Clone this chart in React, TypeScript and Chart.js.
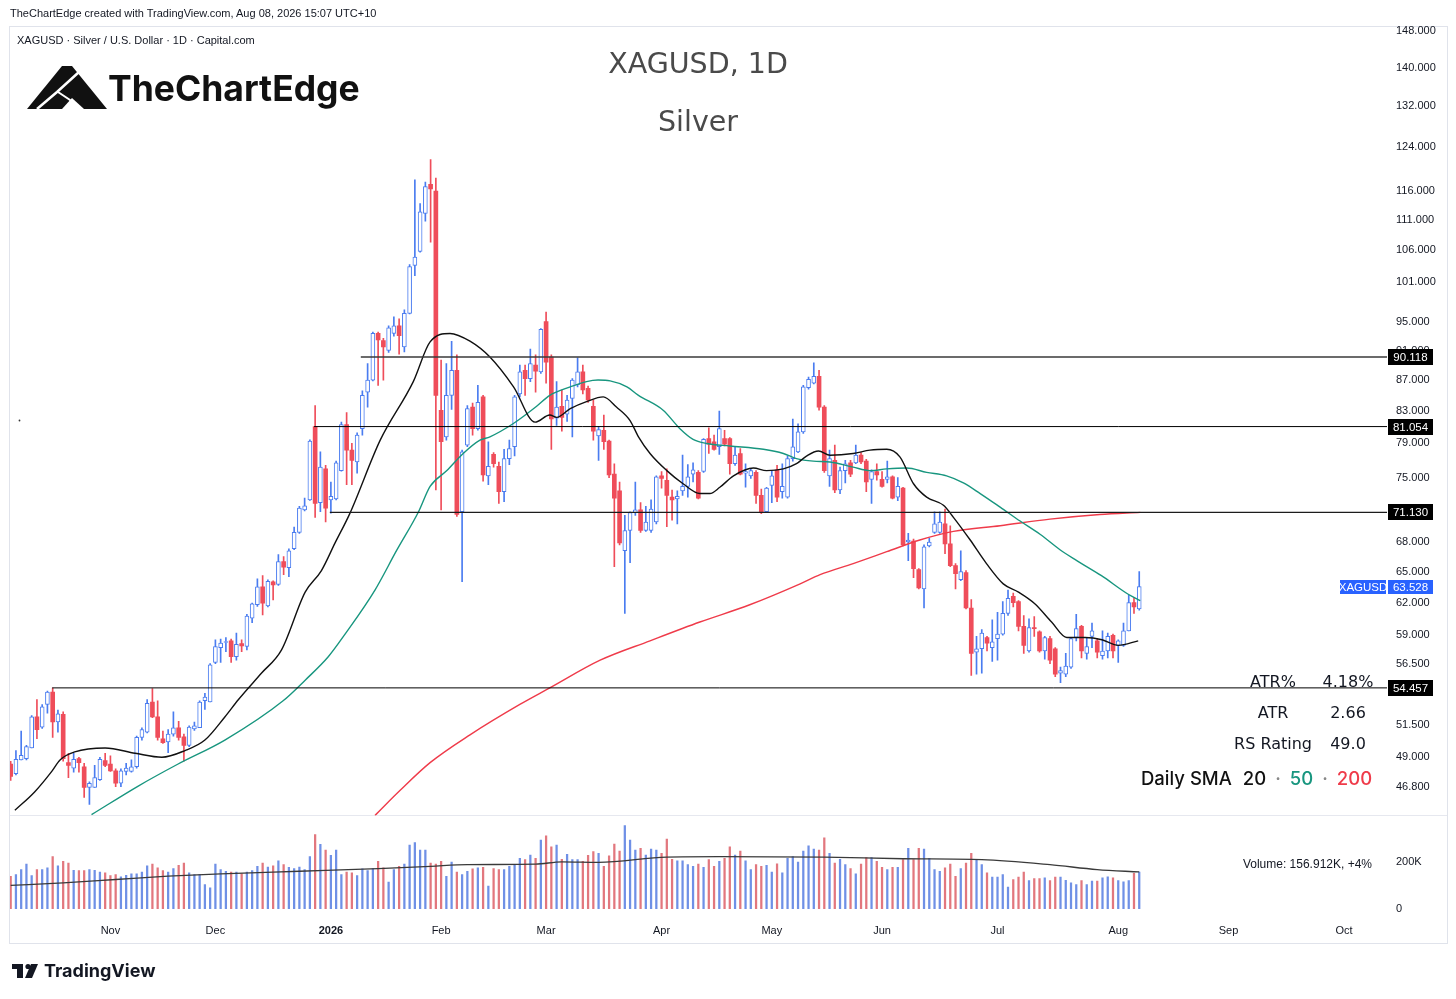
import React, { useEffect, useRef } from "react";
import { Chart, registerables } from "chart.js";
Chart.register(...registerables);

// ---------------- data ----------------
const FIRST_DAY = "2025-10-07";
const HOLIDAYS = ["2025-12-25", "2026-01-01", "2026-04-03"];
const MONTH_NAMES = ["Jan", "Feb", "Mar", "Apr", "May", "Jun", "Jul", "Aug", "Sep", "Oct", "Nov", "Dec"];

const open = [
  48.5, 47.8, 48.8, 48.9, 49.7, 52.1, 51.3, 53.1, 54.1, 51.7,
  52.3, 48.6, 48.2, 48.9, 48.3, 46.8, 46.8, 47.35, 48.75, 48.5,
  48.0, 47.1, 47.95, 47.95, 48.3, 50.5, 50.9, 53.3, 52.1, 50.4,
  50.15, 50.75, 51.25, 50.55, 49.9, 51.15, 51.25, 53.4, 53.3, 56.6,
  57.9, 58.35, 58.5, 57.1, 58.25, 58.0, 60.55, 61.8, 63.5, 61.7,
  64.0, 63.75, 66.0, 65.4, 67.3, 69.0, 71.4, 72.5, 81.05, 72.2,
  76.0, 72.5, 72.6, 75.8, 81.3, 78.2, 76.8, 80.8, 85.4, 87.0,
  93.4, 92.4, 91.0, 93.4, 94.5, 91.5, 96.3, 103.6, 105.8, 112.1,
  117.2, 116.0, 83.1, 79.8, 85.0, 88.3, 71.2, 78.8, 83.5, 80.8,
  84.8, 75.2, 77.7, 76.3, 73.4, 77.2, 78.6, 85.2, 88.3, 87.2,
  89.0, 88.1, 95.1, 90.1, 82.1, 83.6, 82.6, 84.6, 86.4, 88.1,
  85.9, 83.6, 79.9, 80.6, 79.3, 75.4, 73.5, 67.1, 69.2, 71.1,
  71.4, 69.2, 69.2, 70.1, 75.2, 74.7, 72.8, 72.6, 73.5, 74.0,
  75.4, 75.6, 75.7, 79.6, 79.2, 78.6, 79.6, 79.6, 76.6, 77.8,
  75.5, 75.2, 75.6, 73.0, 71.2, 74.1, 75.9, 73.4, 72.8, 77.2,
  78.0, 80.4, 86.0, 86.6, 87.5, 83.5, 75.2, 77.0, 73.6, 75.8,
  76.7, 76.7, 77.6, 76.9, 74.8, 75.7, 74.8, 74.8, 75.1, 72.8,
  73.8, 68.0, 68.1, 65.2, 63.3, 67.6, 69.0, 69.0, 69.9, 67.8,
  65.6, 64.2, 64.9, 61.5, 57.5, 57.8, 58.8, 57.9, 58.7, 59.1,
  61.0, 62.6, 62.1, 59.8, 57.6, 59.7, 59.3, 57.6, 58.7, 57.8,
  55.7, 55.6, 56.2, 58.8, 59.8, 57.4, 58.9, 58.5, 57.2, 57.6,
  59.0, 58.1, 58.1, 59.4, 62.0, 61.4,
];
const high = [
  48.7, 49.5, 51.0, 49.9, 52.2, 53.5, 53.1, 54.2, 54.45, 52.65,
  52.5, 49.3, 49.3, 49.0, 48.55, 47.2, 48.4, 49.0, 49.3, 49.1,
  48.15, 48.15, 48.55, 48.8, 50.6, 51.25, 53.5, 54.4, 53.4, 51.0,
  51.1, 52.5, 51.75, 50.75, 51.4, 51.7, 53.4, 54.0, 56.5, 58.6,
  58.65, 58.8, 58.65, 59.2, 58.6, 60.9, 61.95, 64.3, 64.6, 64.2,
  64.1, 66.7, 66.5, 67.3, 69.55, 71.8, 72.7, 79.45, 83.7, 78.0,
  76.4, 74.5, 76.9, 81.6, 82.8, 79.0, 80.3, 85.6, 89.2, 93.6,
  93.6, 92.7, 94.5, 95.8, 95.5, 96.8, 103.7, 118.0, 113.8, 117.6,
  121.7, 118.3, 89.7, 89.2, 92.3, 90.4, 78.2, 83.7, 84.0, 86.3,
  85.0, 79.2, 77.9, 76.8, 78.3, 79.4, 85.0, 89.0, 89.0, 91.2,
  90.4, 94.1, 96.5, 90.4, 86.8, 85.7, 85.0, 87.2, 90.0, 89.0,
  86.2, 84.4, 81.1, 82.5, 79.4, 76.6, 74.5, 70.8, 71.2, 74.5,
  72.2, 71.8, 72.5, 75.2, 75.7, 76.0, 73.6, 73.5, 77.6, 76.5,
  76.7, 75.8, 79.6, 80.9, 80.0, 83.0, 80.6, 79.7, 78.6, 78.4,
  76.6, 76.0, 75.8, 73.7, 73.9, 75.8, 76.4, 76.6, 77.5, 82.0,
  81.4, 86.3, 87.4, 89.3, 88.3, 83.7, 78.2, 78.8, 76.2, 77.0,
  77.0, 78.8, 77.9, 77.1, 75.9, 76.6, 75.7, 76.9, 75.2, 75.0,
  73.9, 68.9, 68.3, 65.3, 67.7, 68.4, 71.2, 71.2, 71.5, 69.7,
  65.8, 67.1, 65.1, 62.3, 58.9, 59.5, 58.9, 60.4, 61.1, 62.1,
  63.2, 62.9, 62.2, 60.8, 60.5, 60.7, 59.4, 58.9, 58.9, 57.9,
  56.2, 57.4, 58.8, 60.9, 59.9, 58.8, 60.1, 58.7, 59.4, 59.2,
  59.1, 58.6, 60.1, 62.7, 62.5, 65.0,
];
const low = [
  47.3, 47.7, 48.8, 48.8, 49.7, 50.4, 51.2, 52.4, 50.5, 50.9,
  48.7, 47.5, 47.9, 47.9, 46.1, 45.6, 46.8, 47.3, 48.3, 47.95,
  46.85, 46.85, 47.7, 47.9, 48.2, 50.3, 50.85, 52.05, 50.3, 50.05,
  49.35, 50.6, 50.3, 48.7, 49.8, 51.05, 51.25, 52.7, 53.3, 56.5,
  56.6, 57.55, 56.6, 56.8, 57.55, 57.7, 60.15, 61.65, 60.85, 61.6,
  62.25, 63.65, 64.7, 64.5, 67.2, 68.9, 71.3, 72.45, 70.6, 71.2,
  70.1, 71.05, 72.5, 75.75, 74.2, 74.2, 75.5, 80.0, 83.5, 86.9,
  86.3, 87.0, 90.75, 93.0, 90.5, 90.8, 96.2, 102.0, 105.7, 110.8,
  107.3, 73.6, 71.4, 79.4, 83.2, 70.7, 64.0, 78.6, 80.0, 80.6,
  74.6, 74.2, 76.2, 72.1, 72.3, 76.5, 77.5, 84.8, 85.0, 86.8,
  85.4, 87.9, 86.6, 78.3, 81.2, 80.5, 81.7, 79.8, 86.1, 85.2,
  84.1, 79.4, 77.0, 78.3, 75.0, 65.5, 67.7, 61.0, 65.9, 70.8,
  69.0, 69.1, 69.0, 69.9, 73.8, 69.6, 70.3, 69.9, 73.0, 72.8,
  74.5, 72.6, 75.6, 77.8, 78.2, 77.7, 78.7, 75.4, 76.4, 75.3,
  73.9, 74.9, 72.1, 71.0, 71.1, 72.2, 72.3, 72.7, 72.7, 76.9,
  77.9, 80.2, 85.8, 86.5, 83.1, 75.6, 74.0, 73.3, 73.2, 74.4,
  75.1, 76.6, 76.6, 73.4, 72.1, 74.7, 73.9, 74.4, 72.6, 72.4,
  67.6, 66.1, 64.4, 63.3, 61.5, 67.5, 68.9, 68.9, 66.8, 65.5,
  63.3, 64.1, 61.4, 55.5, 55.6, 55.7, 57.6, 56.7, 56.8, 59.0,
  60.8, 61.6, 59.4, 57.4, 57.5, 58.9, 57.5, 56.9, 56.5, 55.4,
  54.9, 55.4, 56.1, 58.5, 57.0, 56.9, 57.9, 57.0, 56.9, 57.0,
  57.0, 56.6, 58.0, 59.4, 61.0, 61.3,
];
const close = [
  47.6, 48.85, 49.15, 49.8, 52.1, 51.1, 52.9, 54.1, 51.7, 52.35,
  48.9, 48.4, 48.85, 48.6, 46.8, 47.1, 47.5, 48.85, 48.4, 48.0,
  47.1, 48.0, 48.2, 48.3, 50.5, 51.1, 53.2, 52.1, 50.5, 50.1,
  50.75, 51.25, 50.5, 49.9, 51.3, 51.4, 53.3, 53.7, 56.4, 58.0,
  58.3, 58.4, 57.1, 58.2, 58.05, 60.75, 61.9, 63.5, 61.95, 64.05,
  63.7, 66.0, 65.45, 67.1, 69.0, 71.6, 71.85, 79.3, 72.1, 76.2,
  71.6, 72.9, 76.7, 81.3, 78.2, 77.0, 80.0, 85.0, 87.0, 93.4,
  92.5, 91.5, 94.2, 94.5, 93.1, 96.3, 103.4, 104.9, 112.4, 116.8,
  116.4, 85.0, 79.2, 85.0, 88.3, 70.9, 78.0, 83.3, 80.8, 84.1,
  75.3, 76.3, 76.6, 73.4, 77.2, 78.4, 84.8, 88.1, 87.2, 89.2,
  88.2, 94.0, 89.4, 82.0, 83.5, 82.2, 84.4, 87.0, 88.1, 85.7,
  84.4, 80.5, 80.7, 79.2, 75.3, 72.7, 67.9, 69.2, 71.1, 71.4,
  69.2, 70.1, 71.5, 75.1, 74.9, 73.0, 72.5, 72.9, 74.0, 75.1,
  75.9, 72.7, 79.5, 78.9, 78.3, 80.8, 78.9, 76.6, 77.6, 75.4,
  75.7, 75.8, 73.0, 71.2, 73.8, 75.2, 72.8, 74.0, 77.2, 78.6,
  80.4, 86.1, 87.1, 87.5, 83.5, 75.8, 77.2, 73.6, 75.8, 76.6,
  75.4, 77.6, 76.8, 74.5, 75.7, 75.3, 74.0, 75.1, 72.7, 74.0,
  67.7, 68.2, 65.3, 63.4, 67.5, 68.0, 69.9, 70.1, 67.8, 65.6,
  64.8, 65.0, 61.5, 57.4, 57.8, 59.2, 58.3, 58.4, 59.1, 61.0,
  62.4, 62.0, 59.8, 58.1, 59.7, 59.6, 57.6, 58.8, 56.8, 55.6,
  55.9, 56.3, 58.7, 59.6, 57.6, 58.0, 59.4, 57.5, 57.6, 58.9,
  57.6, 58.5, 59.4, 62.0, 61.6, 63.528,
];
// volume in thousands
const volumeK = [
  139, 146, 167, 190, 142, 167, 167, 174, 222, 183,
  202, 195, 164, 163, 163, 167, 164, 156, 153, 142,
  146, 136, 143, 149, 149, 157, 183, 190, 174, 163,
  157, 171, 185, 195, 153, 146, 146, 104, 90, 190,
  167, 160, 157, 157, 149, 157, 163, 181, 195, 178,
  183, 204, 188, 177, 171, 178, 167, 222, 316, 274,
  250, 227, 250, 146, 157, 153, 142, 170, 163, 171,
  202, 174, 114, 167, 181, 190, 271, 282, 250, 250,
  195, 190, 202, 139, 199, 156, 146, 160, 170, 174,
  177, 97, 171, 167, 167, 181, 185, 215, 209, 229,
  215, 292, 310, 264, 271, 211, 232, 209, 209, 202,
  227, 243, 236, 181, 225, 275, 246, 354, 292, 250,
  257, 229, 254, 250, 236, 296, 211, 204, 204, 188,
  181, 190, 177, 209, 181, 202, 215, 264, 229, 246,
  204, 167, 188, 181, 185, 157, 192, 153, 215, 222,
  199, 246, 268, 254, 250, 302, 236, 195, 211, 188,
  171, 149, 190, 218, 218, 202, 177, 167, 177, 177,
  209, 257, 209, 257, 254, 215, 167, 160, 174, 190,
  139, 171, 195, 236, 209, 188, 153, 135, 135, 146,
  93, 125, 135, 157, 121, 129, 129, 132, 121, 135,
  135, 122, 111, 104, 121, 104, 118, 118, 132, 136,
  132, 121, 115, 121, 151, 157,
];
// moving averages (bar index, value)
const sma20X = [0.8, 4.6, 7.9, 9.4, 12.2, 18, 23.7, 28.8, 33.2, 37, 40.8, 43.4, 47.8, 51.6, 56.1, 59.2, 61.8, 64.6, 70.4, 76.7, 79.9, 83.7, 87.5, 91.3, 95.8, 99.9, 102.7, 104, 106.6, 109.7, 112.9, 115.4, 118, 119.6, 121.8, 125, 128.1, 131.3, 133.2, 135.1, 137.7, 141.5, 144, 147.2, 149.7, 151.6, 153.9, 156.1, 160.5, 163.7, 166.9, 169.4, 172, 174.5, 177.7, 179.6, 182.8, 185.9, 189.1, 192, 195.1, 198.3, 201.2, 204.7, 207.9, 211, 214.8];
const sma20Y = [45.2, 46.5, 48.0, 48.8, 49.4, 49.7, 49.3, 49.0, 49.5, 50.3, 52.1, 53.5, 55.7, 57.7, 63.0, 65.1, 67.9, 71.0, 79.4, 86.8, 92.2, 93.4, 92.3, 90.1, 86.1, 81.6, 82.5, 82.2, 83.3, 84.2, 84.8, 83.5, 81.8, 79.8, 77.8, 75.8, 74.3, 73.2, 73.2, 73.9, 75.2, 76.1, 75.8, 76.0, 76.6, 77.5, 78.1, 77.6, 77.8, 78.2, 78.3, 77.4, 74.3, 72.8, 71.9, 70.6, 68.2, 65.8, 63.8, 63.0, 61.9, 60.2, 58.8, 58.8, 58.6, 58.1, 58.5];
const sma50X = [15.4, 24.3, 31.9, 40.8, 51.9, 56.1, 60.5, 63.7, 69.4, 73.5, 77.7, 79.9, 83.1, 86.2, 89.4, 91.3, 95.7, 100.2, 102.7, 106.6, 109.7, 111.9, 114.2, 117.4, 119.6, 124.3, 127.5, 130, 132.6, 137, 143.4, 147.2, 149.7, 152.9, 156.1, 160.5, 163.7, 166.9, 170.7, 174.5, 178.3, 181.5, 184.7, 188.5, 192.3, 196.1, 199.9, 203.1, 207.8, 212.9, 215.2];
const sma50Y = [44.9, 46.9, 48.5, 50.3, 53.4, 55.1, 57.1, 59.1, 63.2, 67.1, 71.2, 74.0, 75.8, 77.8, 79.4, 79.8, 81.4, 83.6, 85.0, 86.1, 86.8, 87.0, 86.9, 86.1, 85.0, 83.1, 80.8, 79.5, 79.0, 78.7, 78.3, 77.8, 77.2, 76.9, 76.8, 76.2, 75.8, 76.0, 76.1, 75.6, 75.2, 74.4, 73.2, 71.7, 70.2, 68.8, 67.2, 66.1, 64.6, 62.8, 62.2];
const sma200X = [69.4, 74.2, 79.9, 87.5, 97, 102.7, 112.3, 121.8, 131.3, 140.8, 150.4, 154.2, 160.5, 166.9, 173.2, 179.6, 188.5, 198, 207.5, 215.2];
const sma200Y = [44.85, 46.6, 48.6, 50.7, 53.1, 54.45, 56.8, 58.5, 60.2, 61.8, 63.8, 64.7, 65.8, 67.0, 68.2, 69.1, 69.7, 70.4, 70.9, 71.13];
const volMaX = [0, 10, 20, 30, 40, 55, 70, 80, 87, 100, 105, 112, 125, 135, 155, 170, 185, 198, 207, 215];
const volMaY = [100, 111, 125, 139, 149, 160, 171, 181, 188, 190, 200, 198, 220, 222, 220, 213, 209, 188, 167, 157];

const LEVELS = [90.118, 81.054, 71.13, 54.457];
const LEVEL_START = [66.7, 57.8, 60.8, 7.9];
const LAST_PRICE = 63.528;

const PRICE_TICKS = [148, 140, 132, 124, 116, 111, 106, 101, 95, 91, 87, 83, 79, 75, 71, 68, 65, 62, 59, 56.5, 54, 51.5, 49, 46.8];
const VOLUME_TICKS = [0, 200];

// ---------------- style ----------------
const UP = "#4a7cf0";
const DOWN = "#ef4d5a";
const VOL_UP = "#6f90e6";
const VOL_DOWN = "#e2777e";
const SMA20_C = "#111111";
const SMA50_C = "#18967f";
const SMA200_C = "#ef3b4a";
const LEVEL_C = ["#3a3a3a", "#000000", "#1c1c1c", "#000000"];
const LEVEL_W = [1.4, 1, 1.1, 1];
const X_MIN = -0.13;
const X_MAX = 262.2;
const Y_MIN = 44.85;
const Y_MAX = 149.13;
const AXIS_FONT = '"Liberation Sans", Arial, sans-serif';

function tradingDays(count: number): Date[] {
  const out: Date[] = [];
  const d = new Date(FIRST_DAY + "T00:00:00Z");
  while (out.length < count) {
    const wd = d.getUTCDay();
    const iso = d.toISOString().slice(0, 10);
    if (wd !== 0 && wd !== 6 && !HOLIDAYS.includes(iso)) out.push(new Date(d.getTime()));
    d.setUTCDate(d.getUTCDate() + 1);
  }
  return out;
}

function monthTicks(): { i: number; label: string; bold: boolean }[] {
  const days = tradingDays(Math.floor(X_MAX) + 1);
  const res: { i: number; label: string; bold: boolean }[] = [];
  for (let i = 1; i < days.length; i++) {
    const m = days[i].getUTCMonth();
    if (m !== days[i - 1].getUTCMonth()) {
      const isYear = m === 0;
      res.push({ i, label: isYear ? String(days[i].getUTCFullYear()) : MONTH_NAMES[m], bold: isYear });
    }
  }
  return res;
}

const pts = (xs: number[], ys: number[]) => xs.map((x, k) => ({ x, y: ys[k] }));

const tagPlugin = {
  id: "priceTags",
  afterDraw(chart: any) {
    const ctx = chart.ctx;
    const ys = chart.scales.y;
    const r = chart.chartArea.right;
    ctx.save();
    ctx.font = `11.5px ${AXIS_FONT}`;
    ctx.textAlign = "center";
    ctx.textBaseline = "middle";
    LEVELS.forEach((v) => {
      const py = Math.round(ys.getPixelForValue(v));
      ctx.fillStyle = "#000";
      ctx.fillRect(r + 1, py - 8, 45, 16);
      ctx.fillStyle = "#fff";
      ctx.fillText(v.toFixed(3), r + 23.5, py + 0.5);
    });
    const py = Math.round(ys.getPixelForValue(LAST_PRICE));
    ctx.fillStyle = "#2962ff";
    ctx.fillRect(r - 47, py - 7, 46, 14);
    ctx.fillRect(r + 1, py - 7, 45, 14);
    ctx.fillStyle = "#fff";
    ctx.fillText("XAGUSD", r - 24, py + 0.5);
    ctx.fillText(LAST_PRICE.toFixed(3), r + 23.5, py + 0.5);
    ctx.restore();
  },
};

function Txt(props: any) {
  const { x, y, size, align = "left", family = AXIS_FONT, weight = 400, color = "#131722", children, style } = props;
  const tx = align === "center" ? "-50%" : align === "right" ? "-100%" : "0";
  return (
    <div
      style={{
        position: "absolute",
        left: x,
        top: y,
        transform: `translate(${tx}, -50%)`,
        fontSize: size,
        fontFamily: family,
        fontWeight: weight,
        color,
        whiteSpace: "nowrap",
        lineHeight: 1.15,
        ...style,
      }}
    >
      {children}
    </div>
  );
}

export default function App() {
  const priceRef = useRef<HTMLCanvasElement>(null);
  const volRef = useRef<HTMLCanvasElement>(null);

  useEffect(() => {
    const idx = open.map((_, i) => i);
    const up = idx.map((i) => close[i] >= open[i]);

    const priceChart = new Chart(priceRef.current as HTMLCanvasElement, {
      type: "bar",
      data: {
        datasets: [
          ...LEVELS.map((v, k) => ({
            type: "line" as const,
            label: "level" + k,
            data: [{ x: LEVEL_START[k], y: v }, { x: X_MAX, y: v }],
            borderColor: LEVEL_C[k],
            borderWidth: LEVEL_W[k],
            pointRadius: 0,
            order: 1,
          })),
          {
            type: "line",
            label: "SMA20",
            data: pts(sma20X, sma20Y),
            borderColor: SMA20_C,
            borderWidth: 1.4,
            pointRadius: 0,
            cubicInterpolationMode: "monotone",
            order: 2,
          },
          {
            type: "line",
            label: "SMA50",
            data: pts(sma50X, sma50Y),
            borderColor: SMA50_C,
            borderWidth: 1.4,
            pointRadius: 0,
            cubicInterpolationMode: "monotone",
            order: 3,
          },
          {
            type: "line",
            label: "SMA200",
            data: pts(sma200X, sma200Y),
            borderColor: SMA200_C,
            borderWidth: 1.4,
            pointRadius: 0,
            cubicInterpolationMode: "monotone",
            order: 4,
          },
          {
            type: "bar",
            label: "body",
            data: idx.map((i) => ({ x: i, y: [Math.min(open[i], close[i]), Math.max(open[i], close[i])] })) as any,
            backgroundColor: up.map((u) => (u ? "#ffffff" : DOWN)),
            borderColor: up.map((u) => (u ? UP : DOWN)),
            borderWidth: up.map((u) => (u ? 1 : 0)) as any,
            borderSkipped: false,
            barThickness: 4,
            minBarLength: 1,
            grouped: false,
            order: 5,
          } as any,
          {
            type: "bar",
            label: "wick",
            data: idx.map((i) => ({ x: i, y: [low[i], high[i]] })) as any,
            backgroundColor: up.map((u) => (u ? UP : DOWN)),
            borderWidth: 0,
            barThickness: 1,
            grouped: false,
            order: 6,
          } as any,
        ],
      },
      options: {
        responsive: false,
        animation: false,
        devicePixelRatio: 1,
        layout: { padding: { left: 10, top: 26, right: 0, bottom: 0 } },
        plugins: { legend: { display: false }, tooltip: { enabled: false } },
        scales: {
          x: { type: "linear", display: false, min: X_MIN, max: X_MAX, offset: false },
          y: {
            type: "logarithmic",
            position: "right",
            min: Y_MIN,
            max: Y_MAX,
            grid: { display: false, drawTicks: false },
            border: { display: false },
            afterFit: (s: any) => {
              s.width = 69;
            },
            afterBuildTicks: (s: any) => {
              s.ticks = PRICE_TICKS.map((v) => ({ value: v }));
            },
            ticks: {
              callback: (v: any) => Number(v).toFixed(3),
              font: { family: AXIS_FONT, size: 11 },
              color: "#131722",
              padding: 9,
              autoSkip: false,
              maxRotation: 0,
            },
          },
        },
      } as any,
      plugins: [tagPlugin],
    });

    const mt = monthTicks();
    const volChart = new Chart(volRef.current as HTMLCanvasElement, {
      type: "bar",
      data: {
        datasets: [
          {
            type: "line",
            label: "volMA",
            data: pts(volMaX, volMaY),
            borderColor: "#3a3a3a",
            borderWidth: 1.3,
            pointRadius: 0,
            cubicInterpolationMode: "monotone",
            order: 1,
          },
          {
            type: "bar",
            label: "volume",
            data: idx.map((i) => ({ x: i, y: volumeK[i] })) as any,
            backgroundColor: up.map((u) => (u ? VOL_UP : VOL_DOWN)),
            barThickness: 1.6,
            grouped: false,
            order: 2,
          } as any,
        ],
      },
      options: {
        responsive: false,
        animation: false,
        devicePixelRatio: 1,
        layout: { padding: { left: 10, top: 0, right: 0, bottom: 0 } },
        plugins: { legend: { display: false }, tooltip: { enabled: false } },
        scales: {
          x: {
            type: "linear",
            min: X_MIN,
            max: X_MAX,
            offset: false,
            grid: { display: false, drawTicks: false },
            border: { display: false },
            afterFit: (s: any) => {
              s.height = 36;
            },
            afterBuildTicks: (s: any) => {
              s.ticks = mt.map((t) => ({ value: t.i }));
            },
            ticks: {
              callback: (v: any) => {
                const t = mt.find((m) => m.i === v);
                return t ? t.label : "";
              },
              font: (c: any) => {
                const t = mt.find((m) => c.tick && m.i === c.tick.value);
                return { family: AXIS_FONT, size: 11, weight: t && t.bold ? "bold" : "normal" };
              },
              color: "#131722",
              padding: 15,
              autoSkip: false,
              maxRotation: 0,
            },
          },
          y: {
            type: "linear",
            position: "right",
            min: 0,
            max: 391.7,
            grid: { display: false, drawTicks: false },
            border: { display: false },
            afterFit: (s: any) => {
              s.width = 69;
            },
            afterBuildTicks: (s: any) => {
              s.ticks = VOLUME_TICKS.map((v) => ({ value: v }));
            },
            ticks: {
              callback: (v: any) => (v === 0 ? "0" : v + "K"),
              font: { family: AXIS_FONT, size: 11 },
              color: "#131722",
              padding: 9,
              autoSkip: false,
            },
          },
        },
      } as any,
    });

    return () => {
      priceChart.destroy();
      volChart.destroy();
    };
  }, []);

  const tableFont = '"DejaVu Sans", sans-serif';
  const geo = 'Inter, "Noto Sans", sans-serif';
  const dot = { color: "#888", margin: "0 9px" };

  return (
    <div style={{ position: "absolute", left: 0, top: 0, width: 1456, height: 999, background: "#ffffff", overflow: "hidden" }}>
      {/* frame */}
      <div style={{ position: "absolute", left: 9, top: 26, width: 1437, height: 916, border: "1px solid #e0e3eb" }} />
      <div style={{ position: "absolute", left: 10, top: 815, width: 1437, height: 1, background: "#e6e8ef" }} />

      <canvas ref={priceRef} width={1456} height={831} style={{ position: "absolute", left: 0, top: 0, width: 1456, height: 831 }} />
      <canvas ref={volRef} width={1456} height={144} style={{ position: "absolute", left: 0, top: 801, width: 1456, height: 144 }} />

      <Txt x={10} y={13} size={11}>TheChartEdge created with TradingView.com, Aug 08, 2026 15:07 UTC+10</Txt>
      <Txt x={17} y={40} size={11}>XAGUSD · Silver / U.S. Dollar · 1D · Capital.com</Txt>

      {/* logo */}
      <svg style={{ position: "absolute", left: 0, top: 0 }} width={1456} height={999}>
        <polygon points="27,109 62,66 72,66 107,109" fill="#111" />
        <polyline points="79,72 57,92 37,109" stroke="#fff" strokeWidth={2.5} fill="none" />
        <polyline points="58,92 70,100 80,110" stroke="#fff" strokeWidth={2} fill="none" />
        <polygon points="62,109 72,98 84,109" fill="#fff" />
        <circle cx={19.5} cy={420.5} r={0.9} fill="#333" />
        {/* TradingView mark */}
        <rect x={12} y={964} width={11} height={5} fill="#131722" />
        <rect x={17} y={964} width={6} height={14} fill="#131722" />
        <circle cx={28} cy={966.5} r={2.6} fill="#131722" />
        <polygon points="31,964 38,964 32,978 25,978" fill="#131722" />
      </svg>
      <Txt x={108} y={89} size={35.5} family={geo} weight={700} color="#111111">TheChartEdge</Txt>

      <Txt x={698} y={64} size={28.5} align="center" family={tableFont} color="#4a4a4a">XAGUSD, 1D</Txt>
      <Txt x={698} y={122} size={28.5} align="center" family={tableFont} color="#4a4a4a">Silver</Txt>

      {/* table */}
      <Txt x={1273} y={682} size={16} align="center" family={tableFont}>ATR%</Txt>
      <Txt x={1348} y={682} size={16} align="center" family={tableFont}>4.18%</Txt>
      <Txt x={1273} y={713} size={16} align="center" family={tableFont}>ATR</Txt>
      <Txt x={1348} y={713} size={16} align="center" family={tableFont}>2.66</Txt>
      <Txt x={1273} y={744} size={16} align="center" family={tableFont}>RS Rating</Txt>
      <Txt x={1348} y={744} size={16} align="center" family={tableFont}>49.0</Txt>
      <Txt x={1141} y={779} size={18.5} family={geo} weight={500} color="#111">
        Daily SMA<span style={{ marginLeft: 11 }}>20</span>
        <span style={dot}>·</span>
        <span style={{ color: SMA50_C }}>50</span>
        <span style={dot}>·</span>
        <span style={{ color: SMA200_C }}>200</span>
      </Txt>

      <Txt x={1372} y={865} size={12} align="right">Volume: 156.912K, +4%</Txt>

      <Txt x={44} y={971} size={18} family={geo} weight={700} color="#131722">TradingView</Txt>
    </div>
  );
}
